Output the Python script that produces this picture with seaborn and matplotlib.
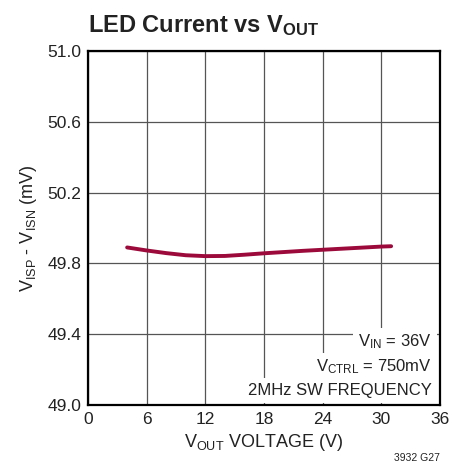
import matplotlib
matplotlib.use("Agg")
import matplotlib.pyplot as plt
import pandas as pd
import seaborn as sns

# values
vout = [4, 6, 8, 10, 12, 14, 16, 18, 20, 22, 24, 26, 28, 30, 31]
vsense = [49.890, 49.873, 49.858, 49.846, 49.841, 49.842, 49.849, 49.857,
          49.864, 49.871, 49.877, 49.883, 49.889, 49.895, 49.897]
x_ticks = [0, 6, 12, 18, 24, 30, 36]
y_ticks = [49.0, 49.4, 49.8, 50.2, 50.6, 51.0]
notes = ["$V_{IN}$ = 36V", "$V_{CTRL}$ = 750mV", "2MHz SW FREQUENCY"]

sns.set_style("white")
plt.rcParams["font.family"] = ["Liberation Sans Narrow", "Liberation Sans", "DejaVu Sans"]
plt.rcParams["mathtext.default"] = "regular"

df = pd.DataFrame({"vout": vout, "vsense": vsense})

fig = plt.figure(figsize=(4.64, 4.73), dpi=100)
ax = fig.add_axes([0.1897, 0.1438, 0.7586, 0.7484])

sns.lineplot(data=df, x="vout", y="vsense", ax=ax, color="#9b0a3a",
             linewidth=2.8, zorder=3)

ax.set_xlim(0, 36)
ax.set_ylim(49.0, 51.0)
ax.set_xticks(x_ticks)
ax.set_yticks(y_ticks)
ax.set_yticklabels([f"{v:.1f}" for v in y_ticks])
ax.grid(True, color="#555555", linewidth=0.9)
ax.tick_params(length=0, labelsize=12.5, colors="#222222", pad=5)
for s in ax.spines.values():
    s.set_color("black")
    s.set_linewidth(1.6)
    s.set_zorder(5)

ax.set_xlabel("$V_{OUT}$ VOLTAGE (V)", fontsize=13, color="#222222", labelpad=4)
ax.set_ylabel("$V_{ISP}$ - $V_{ISN}$ (mV)", fontsize=13, color="#222222", labelpad=6)

fig.text(0.19, 0.945, "LED Current vs $V_{OUT}$", fontsize=17, fontweight="bold",
         color="#222222", ha="left", va="center")

# each note line gets its own white backing, like the datasheet
for note, ypos in zip(notes, [0.178, 0.107, 0.040]):
    ax.text(0.977, ypos, note, transform=ax.transAxes, ha="right", va="center",
            fontsize=12, color="#222222", zorder=4,
            bbox=dict(facecolor="white", edgecolor="none", pad=3.5))

fig.text(0.948, 0.025, "3932 G27", fontsize=7.5, color="#222222", ha="right")

fig.savefig("out.png", dpi=100)
